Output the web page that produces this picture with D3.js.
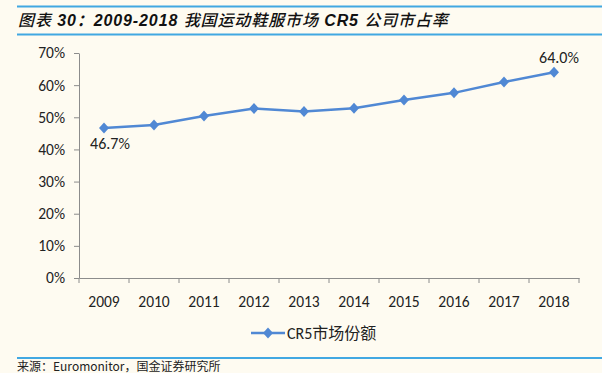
<!DOCTYPE html>
<html><head><meta charset="utf-8">
<script src="https://cdn.jsdelivr.net/npm/d3@7"></script>
<style>
html,body{margin:0;padding:0;background:#FEFBF1;}
svg{display:block;}
</style></head>
<body>
<svg id="c" width="602" height="373"></svg>
<script>
const years = ["2009","2010","2011","2012","2013","2014","2015","2016","2017","2018"];
const cr5 = [46.7, 47.6, 50.4, 52.7, 51.8, 52.8, 55.4, 57.6, 61.0, 64.0];
const yTicks = [0,10,20,30,40,50,60,70];
const seriesName = "CR5市场份额";
const titleParts = [["图表 ",false],["30：2009-2018 ",true],["我国运动鞋服市场 ",false],["CR5 ",true],["公司市占率",false]];
const sourceText = "来源：Euromonitor，国金证券研究所";

const svg = d3.select("#c");
const W = 602, H = 373;
svg.append("rect").attr("width",W).attr("height",H).attr("fill","#FEFBF1");

const blue = "#41A8E2";
svg.append("line").attr("x1",17).attr("x2",602).attr("y1",6.5).attr("y2",6.5).attr("stroke",blue).attr("stroke-width",2);
svg.append("line").attr("x1",17).attr("x2",602).attr("y1",34.5).attr("y2",34.5).attr("stroke",blue).attr("stroke-width",2);
svg.append("line").attr("x1",17).attr("x2",602).attr("y1",358).attr("y2",358).attr("stroke",blue).attr("stroke-width",2);

const tt = svg.append("text").attr("x",18).attr("y",26)
  .attr("font-family","'Liberation Sans','Noto Sans CJK SC',sans-serif")
  .attr("font-size",16).attr("letter-spacing",0.9).attr("font-style","italic").attr("fill","#111");
titleParts.forEach(([s,b])=>tt.append("tspan").text(s).attr("font-weight",b?"bold":"500"));

svg.append("text").attr("x",17).attr("y",371).text(sourceText)
  .attr("font-family","'Noto Sans CJK SC',sans-serif").attr("font-size",12).attr("fill","#222");

const x = d3.scaleBand().domain(years).range([79,579]);
const y = d3.scaleLinear().domain([0,70]).range([278,53]);
const axisColor = "#8c8c8c";
const font = "Calibri,'Carlito','Liberation Sans','Noto Sans',sans-serif";

const gy = svg.append("g").attr("transform","translate(79,0)")
  .call(d3.axisLeft(y).tickValues(yTicks).tickFormat(d=>d+"%").tickSize(5).tickSizeOuter(0));
gy.select(".domain").attr("stroke",axisColor);
gy.selectAll(".tick line").attr("stroke",axisColor);
gy.selectAll(".tick text").attr("font-family",font).attr("font-size",15.5).attr("fill","#222").attr("x",-14);

const gx = svg.append("g").attr("transform","translate(0,278)")
  .call(d3.axisBottom(x).tickSize(0).tickSizeOuter(0));
gx.select(".domain").attr("stroke",axisColor);
gx.selectAll(".tick text").attr("font-family",font).attr("font-size",15.5).attr("fill","#222").attr("y",18).attr("dy","0.71em");
const bounds = years.map(d=>x(d)).concat([x(years[years.length-1])+x.bandwidth()]);
gx.selectAll(".bt").data(bounds).enter().append("line")
  .attr("x1",d=>d).attr("x2",d=>d).attr("y1",0).attr("y2",5).attr("stroke",axisColor);

const lineColor = "#5088D4";
const cx = d => x(d)+x.bandwidth()/2;
const line = d3.line().x((d,i)=>cx(years[i])).y(d=>y(d));
svg.append("path").datum(cr5).attr("d",line).attr("fill","none").attr("stroke",lineColor).attr("stroke-width",2.5);
const dm = "M0,-5.5L5,0L0,5.5L-5,0Z";
svg.selectAll(".pt").data(cr5).enter().append("path")
  .attr("d",dm).attr("transform",(d,i)=>`translate(${cx(years[i])},${y(d)})`).attr("fill",lineColor);

svg.append("text").attr("x",cx(years[0])+6).attr("y",y(cr5[0])+21).attr("text-anchor","middle")
  .text(cr5[0].toFixed(1)+"%").attr("font-family",font).attr("font-size",16).attr("fill","#222");
const li = cr5.length-1;
svg.append("text").attr("x",cx(years[li])+5).attr("y",y(cr5[li])-9).attr("text-anchor","middle")
  .text(cr5[li].toFixed(1)+"%").attr("font-family",font).attr("font-size",16).attr("fill","#222");

const lg = svg.append("g");
lg.append("line").attr("x1",251).attr("x2",285).attr("y1",333).attr("y2",333).attr("stroke",lineColor).attr("stroke-width",2.5);
lg.append("path").attr("d",dm).attr("transform","translate(268,333)").attr("fill",lineColor);
lg.append("text").attr("x",287).attr("y",339).text(seriesName)
  .attr("font-family",font+",'Noto Sans CJK SC'").attr("font-size",16).attr("fill","#222");
</script>
</body></html>
